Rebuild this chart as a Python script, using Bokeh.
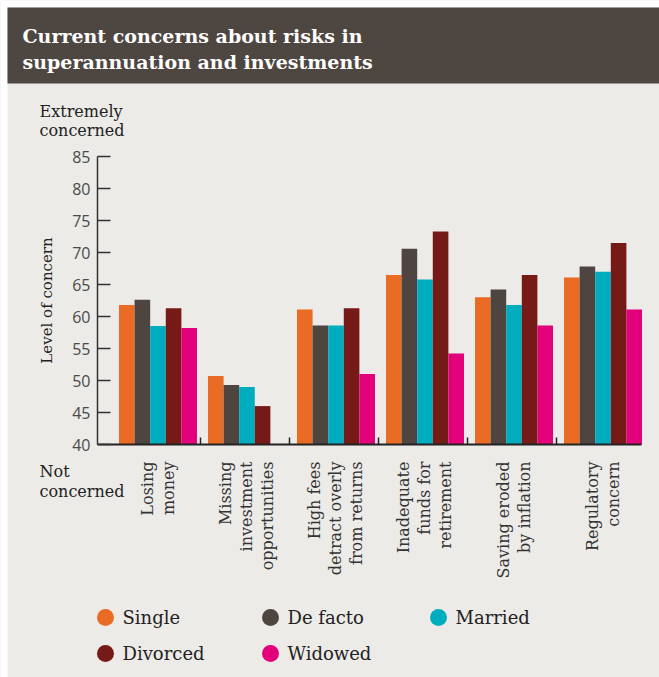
import math
from bokeh.plotting import figure
from bokeh.models import (Range1d, FixedTicker, Label, BoxAnnotation, ColumnDataSource)
from bokeh.embed import file_html
from bokeh.resources import INLINE

# ---------------- data ----------------
categories = [
    ["Losing", "money"],
    ["Missing", "investment", "opportunities"],
    ["High fees", "detract overly", "from returns"],
    ["Inadequate", "funds for", "retirement"],
    ["Saving eroded", "by inflation"],
    ["Regulatory", "concern"],
]
series_names = ["Single", "De facto", "Married", "Divorced", "Widowed"]
single = [61.8, 50.7, 61.1, 66.5, 63.0, 66.1]
de_facto = [62.6, 49.3, 58.6, 70.6, 64.2, 67.8]
married = [58.5, 49.0, 58.6, 65.8, 61.8, 67.0]
divorced = [61.3, 46.0, 61.3, 73.3, 66.5, 71.5]
widowed = [58.2, float("nan"), 51.0, 54.2, 58.6, 61.1]
y_ticks = [40, 45, 50, 55, 60, 65, 70, 75, 80, 85]
title_lines = ["Current concerns about risks in", "superannuation and investments"]

# ---------------- layout / style ----------------
W, H = 659, 677
LEFT, RIGHT, TOP, BOTTOM = 97, 641, 156, 444   # pixel box of the axes
X0, X1 = -0.157, 5.955                          # data x at LEFT / RIGHT
Y0, Y1 = 40, 85                                 # data y at BOTTOM / TOP
colors = ["#e96b24", "#4e4540", "#00adbe", "#761a17", "#e3007b"]
BG = "#ecebe7"
BAND = "#4e4641"
SERIF = "DejaVu Serif"
# legend slots (pixel centres of the markers)
legend_slots = [(105, 617), (270, 617), (438, 617), (105, 653), (270, 653)]


def dx(px):
    return X0 + (px - LEFT) * (X1 - X0) / (RIGHT - LEFT)


def dy(py):
    return Y1 - (py - TOP) * (Y1 - Y0) / (BOTTOM - TOP)


PX = (RIGHT - LEFT) / (X1 - X0)  # px per x unit

p = figure(width=W, height=H, x_range=Range1d(dx(0), dx(W)), y_range=Range1d(dy(H), dy(0)),
           output_backend="svg", toolbar_location=None,
           background_fill_color=BG, border_fill_color=BG, min_border=0)
p.outline_line_color = None
p.xgrid.visible = False
p.ygrid.visible = False

# white page margins and title band
p.add_layout(BoxAnnotation(left=dx(0), right=dx(7), bottom=dy(H), top=dy(0),
                           fill_color="white", fill_alpha=1, line_color=None, level="underlay"))
p.add_layout(BoxAnnotation(left=dx(0), right=dx(W), bottom=dy(7), top=dy(0),
                           fill_color="white", fill_alpha=1, line_color=None, level="underlay"))
p.add_layout(BoxAnnotation(left=dx(7), right=dx(W), bottom=dy(83), top=dy(7),
                           fill_color=BAND, fill_alpha=1, line_color=None, level="underlay"))

for k, t in enumerate(title_lines):
    p.add_layout(Label(x=dx(22), y=dy(35.5 + 26 * k), text=t, text_color="white",
                       text_font=SERIF, text_font_style="bold", text_font_size="19px",
                       text_align="left", text_baseline="middle"))

# bars
bar_w = 15.6 / PX
series_vals = [single, de_facto, married, divorced, widowed]
for j, (name, vals, c) in enumerate(zip(series_names, series_vals, colors)):
    xs = [i + 0.5 + 2.0 / PX + (j - 2) * bar_w for i in range(len(categories))]
    src = ColumnDataSource(dict(x=xs, top=vals))
    p.vbar(x="x", top="top", bottom=Y0, width=bar_w, source=src,
           fill_color=c, line_color=None)

# axes (placed inside the full-canvas frame)
p.yaxis.fixed_location = X0
p.yaxis.bounds = (Y0, Y1)
p.yaxis.ticker = FixedTicker(ticks=y_ticks)
p.yaxis.axis_line_color = "#333333"
p.yaxis.axis_line_width = 1.5
p.yaxis.major_tick_in = 13
p.yaxis.major_tick_out = 0
p.yaxis.major_tick_line_color = "#333333"
p.yaxis.major_tick_line_width = 1.5
p.yaxis.minor_tick_line_color = None
p.yaxis.major_label_standoff = 7
p.yaxis.major_label_text_font = "Open Sans"
p.yaxis.major_label_text_font_size = "16px"
p.yaxis.major_label_text_color = "#4a4a4a"

p.xaxis.fixed_location = Y0
p.xaxis.bounds = (X0, X1)
p.xaxis.ticker = FixedTicker(ticks=[1, 2, 3, 4, 5])
p.xaxis.major_label_overrides = {i: "" for i in range(1, 6)}
p.xaxis.axis_line_color = "#222222"
p.xaxis.axis_line_width = 2
p.xaxis.major_tick_in = 7
p.xaxis.major_tick_out = 0
p.xaxis.major_tick_line_color = "#222222"
p.xaxis.major_tick_line_width = 1.5
p.xaxis.minor_tick_line_color = None

# category labels (rotated, multi-line)
for i, lines in enumerate(categories):
    n = len(lines)
    for k, line in enumerate(lines):
        xpx = 2 + (k - (n - 1) / 2) * 21
        p.add_layout(Label(x=i + 0.5 + xpx / PX, y=dy(461), text=line, angle=math.pi / 2,
                           text_align="right", text_baseline="middle",
                           text_font=SERIF, text_font_size="16px", text_color="#333333"))

# axis annotations
for k, t in enumerate(["Extremely", "concerned"]):
    p.add_layout(Label(x=dx(39), y=dy(110.5 + 19 * k), text=t, text_font=SERIF,
                       text_font_size="16px", text_color="#222222",
                       text_align="left", text_baseline="middle"))
for k, t in enumerate(["Not", "concerned"]):
    p.add_layout(Label(x=dx(39), y=dy(470.5 + 20 * k), text=t, text_font=SERIF,
                       text_font_size="16px", text_color="#222222",
                       text_align="left", text_baseline="middle"))
p.add_layout(Label(x=dx(46), y=dy(300), text="Level of concern", angle=math.pi / 2,
                   text_align="center", text_baseline="middle", text_font=SERIF,
                   text_font_size="15px", text_color="#222222"))

# legend: circle markers + names
for name, c, (cx, cy) in zip(series_names, colors, legend_slots):
    p.scatter(x=[dx(cx)], y=[dy(cy)], marker="circle", size=17,
              fill_color=c, line_color=None)
    p.add_layout(Label(x=dx(cx + 17), y=dy(cy), text=name, text_font=SERIF,
                       text_font_size="18px", text_color="#222222",
                       text_align="left", text_baseline="middle"))

open("out.html", "w").write(file_html(p, INLINE))
